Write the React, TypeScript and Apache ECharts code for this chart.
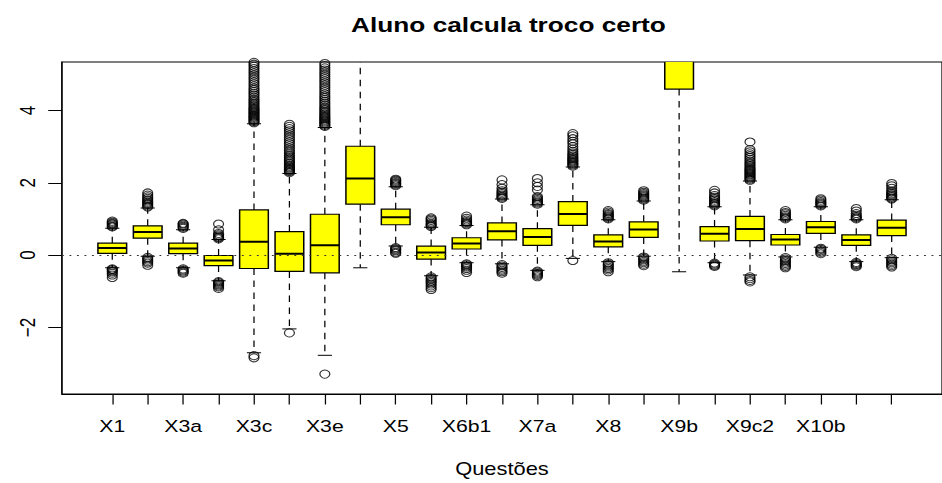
import React, { useEffect, useRef } from "react";
import * as echarts from "echarts";

const categories = [
  "X1", "X2", "X3a", "X3b", "X3c", "X3d", "X3e", "X4", "X5", "X6a", "X6b1", "X6b2",
  "X7a", "X7b", "X8", "X9a", "X9b", "X9c1", "X9c2", "X10a", "X10b", "X10c", "X11",
];
const shownLabels = ["X1", "X3a", "X3c", "X3e", "X5", "X6b1", "X7a", "X8", "X9b", "X9c2", "X10b"];

const lowerWhisker = [-0.35, -0.03, -0.35, -0.71, -2.7, -2.04, -2.77, -0.35, 0.25, -0.57, -0.21, -0.24, -0.42, -0.09, -0.18, -0.03, -0.46, -0.21, -0.55, -0.05, 0.22, -0.18, -0.07];
const lowerQuartile = [0.05, 0.47, 0.04, -0.29, -0.37, -0.45, -0.49, 1.41, 0.84, -0.11, 0.17, 0.42, 0.27, 0.82, 0.23, 0.49, 4.59, 0.39, 0.4, 0.28, 0.6, 0.27, 0.54];
const medianValues = [0.2, 0.64, 0.18, -0.15, 0.37, 0.04, 0.27, 2.12, 1.05, 0.07, 0.32, 0.66, 0.5, 1.14, 0.38, 0.71, 6.2, 0.59, 0.72, 0.43, 0.77, 0.42, 0.76];
const upperQuartile = [0.33, 0.81, 0.33, -0.01, 1.25, 0.65, 1.13, 3.01, 1.27, 0.25, 0.48, 0.89, 0.73, 1.48, 0.56, 0.92, 7.5, 0.79, 1.07, 0.57, 0.93, 0.56, 0.97];
const upperWhisker = [0.74, 1.3, 0.7, 0.43, 3.63, 2.26, 3.53, 6.5, 1.89, 0.77, 0.82, 1.55, 1.39, 2.44, 0.98, 1.5, 9.5, 1.34, 2.05, 0.98, 1.34, 0.98, 1.53];

const outliers: number[][] = [
  [0.78, 0.8, 0.83, 0.86, 0.88, 0.91, 0.94, -0.38, -0.4, -0.43, -0.46, -0.5, -0.55, -0.62],
  [1.33, 1.36, 1.4, 1.43, 1.46, 1.5, 1.53, 1.57, 1.61, 1.66, 1.72, -0.06, -0.1, -0.14, -0.18, -0.22, -0.28],
  [0.74, 0.77, 0.8, 0.83, 0.86, 0.88, -0.38, -0.41, -0.44, -0.47, -0.5],
  [0.45, 0.48, 0.5, 0.53, 0.56, 0.6, 0.7, 0.86, -0.73, -0.76, -0.79, -0.82, -0.85, -0.88, -0.92],
  [3.66, 3.69, 3.72, 3.75, 3.78, 3.81, 3.84, 3.87, 3.9, 3.93, 3.96, 3.99, 4.02, 4.05, 4.08, 4.12, 4.16, 4.2, 4.24, 4.28, 4.32, 4.37, 4.42, 4.47, 4.52, 4.57, 4.62, 4.68, 4.74, 4.8, 4.86, 4.92, 4.98, 5.04, 5.1, 5.16, 5.22, 5.28, 5.33, -2.78, -2.84],
  [2.28, 2.31, 2.34, 2.37, 2.4, 2.43, 2.46, 2.5, 2.54, 2.58, 2.62, 2.66, 2.7, 2.75, 2.8, 2.85, 2.9, 2.96, 3.02, 3.08, 3.14, 3.2, 3.26, 3.32, 3.38, 3.44, 3.5, 3.56, 3.62, -2.15],
  [3.56, 3.59, 3.62, 3.65, 3.68, 3.71, 3.74, 3.77, 3.8, 3.83, 3.86, 3.9, 3.94, 3.98, 4.02, 4.06, 4.1, 4.15, 4.2, 4.25, 4.3, 4.35, 4.4, 4.46, 4.52, 4.58, 4.64, 4.7, 4.76, 4.82, 4.88, 4.94, 5.0, 5.06, 5.12, 5.18, 5.24, 5.3, -3.29],
  [],
  [1.92, 1.95, 1.98, 2.01, 2.04, 2.07, 2.1, 0.21, 0.18, 0.15, 0.12, 0.08, 0.05],
  [0.79, 0.82, 0.85, 0.88, 0.92, 0.96, 1.0, 1.03, -0.6, -0.64, -0.68, -0.72, -0.76, -0.8, -0.85, -0.9, -0.95],
  [0.84, 0.87, 0.9, 0.93, 0.97, 1.02, 1.08, -0.24, -0.27, -0.3, -0.33, -0.37, -0.42, -0.48],
  [1.57, 1.6, 1.63, 1.66, 1.7, 1.74, 1.78, 1.85, 1.95, 2.08, -0.26, -0.3, -0.34, -0.38, -0.42, -0.46, -0.5],
  [1.41, 1.44, 1.47, 1.5, 1.54, 1.58, 1.62, 1.8, 1.9, 2.0, 2.12, -0.44, -0.47, -0.5, -0.53, -0.56, -0.6],
  [2.46, 2.49, 2.52, 2.55, 2.58, 2.61, 2.64, 2.67, 2.7, 2.74, 2.78, 2.82, 2.87, 2.93, 3.0, 3.08, 3.15, 3.22, 3.3, 3.36, -0.15],
  [1.0, 1.03, 1.06, 1.09, 1.12, 1.15, 1.19, 1.23, -0.21, -0.25, -0.29, -0.33, -0.37, -0.41, -0.46],
  [1.52, 1.55, 1.58, 1.61, 1.64, 1.67, 1.7, 1.74, 1.78, -0.05, -0.09, -0.13, -0.17, -0.21, -0.25, -0.29],
  [],
  [1.36, 1.39, 1.42, 1.45, 1.48, 1.52, 1.56, 1.6, 1.65, 1.72, 1.79, -0.22, -0.25, -0.28, -0.31],
  [2.07, 2.1, 2.13, 2.16, 2.19, 2.22, 2.25, 2.28, 2.31, 2.34, 2.37, 2.4, 2.44, 2.48, 2.52, 2.56, 2.6, 2.65, 2.7, 2.75, 2.8, 2.86, 2.92, 3.13, -0.6, -0.65, -0.7, -0.74],
  [1.0, 1.03, 1.06, 1.1, 1.14, 1.18, 1.23, -0.07, -0.11, -0.15, -0.19, -0.23, -0.27, -0.31, -0.35],
  [1.36, 1.39, 1.42, 1.45, 1.48, 1.52, 1.56, 0.19, 0.16, 0.12, 0.08, 0.04],
  [1.0, 1.03, 1.06, 1.1, 1.15, 1.22, 1.29, -0.2, -0.23, -0.26, -0.29, -0.32],
  [1.55, 1.58, 1.61, 1.64, 1.67, 1.7, 1.74, 1.78, 1.85, 1.92, 1.98, -0.09, -0.13, -0.17, -0.21, -0.25, -0.29, -0.33],
];

const yTicks = [-2, 0, 2, 4];

const FONT = "'Liberation Sans', Arial, Helvetica, sans-serif";
const BASE_W = 754;
const BASE_H = 483;
const STRETCH = 942 / BASE_W;

export default function App() {
  const ref = useRef<HTMLDivElement>(null);

  useEffect(() => {
    if (!ref.current) return;
    const chart = echarts.init(ref.current, null, { renderer: "svg", width: BASE_W, height: BASE_H });

    const positions = categories.map((_, i) => i + 1);
    const labelPositions = shownLabels.map((l) => categories.indexOf(l) + 1);
    const boxData = categories.map((_, i) => [
      i + 1,
      lowerWhisker[i],
      lowerQuartile[i],
      medianValues[i],
      upperQuartile[i],
      upperWhisker[i],
    ]);
    const outlierData: number[][] = [];
    outliers.forEach((arr, i) => arr.forEach((v) => outlierData.push([i + 1, v])));

    const BOX_HALF = 0.405;
    const STAPLE_HALF = 0.2;

    chart.setOption({
      animation: false,
      title: {
        text: "Aluno calcula troco certo",
        left: 402,
        textAlign: "center",
        top: 9,
        textStyle: { fontFamily: FONT, fontSize: 21, fontWeight: "bold", color: "#000" },
      },
      grid: {
        left: 49.6,
        top: 62,
        right: BASE_W - 761.5,
        bottom: 88,
        show: true,
        borderColor: "#000",
        borderWidth: 1,
        backgroundColor: "transparent",
      },
      xAxis: {
        type: "value",
        min: -0.42,
        max: 24.42,
        name: "Questões",
        nameLocation: "middle",
        nameGap: 66,
        nameTextStyle: { fontFamily: FONT, fontSize: 17.5, color: "#000" },
        axisLine: { show: true, onZero: false, lineStyle: { color: "#000", width: 1 } },
        axisTick: { show: true, length: 10.5, customValues: positions, lineStyle: { color: "#000", width: 1 } },
        axisLabel: {
          show: true,
          customValues: labelPositions,
          formatter: (v: number) => categories[Math.round(v) - 1] ?? "",
          margin: 23.5,
          fontFamily: FONT,
          fontSize: 17,
          color: "#000",
        },
        splitLine: { show: false },
      },
      yAxis: {
        type: "value",
        min: -3.84,
        max: 5.34,
        axisLine: { show: true, onZero: false, lineStyle: { color: "#000", width: 1 } },
        axisTick: { show: true, length: 11, customValues: yTicks, lineStyle: { color: "#000", width: 1 } },
        axisLabel: {
          show: true,
          customValues: yTicks,
          formatter: (v: number) => (v < 0 ? "\u2212" + Math.abs(v) : String(v)),
          rotate: 90,
          margin: 19,
          fontFamily: FONT,
          fontSize: 17,
          color: "#000",
        },
        splitLine: { show: false },
      },
      series: [
        {
          type: "custom",
          silent: true,
          clip: true,
          z: 2,
          encode: { x: 0, y: [1, 2, 3, 4, 5] },
          data: boxData,
          renderItem: (params: any, api: any) => {
            const x = api.value(0);
            const pLo = api.coord([x, api.value(1)]);
            const pQ1 = api.coord([x, api.value(2)]);
            const pMed = api.coord([x, api.value(3)]);
            const pQ3 = api.coord([x, api.value(4)]);
            const pHi = api.coord([x, api.value(5)]);
            const half = api.size([BOX_HALF, 0])[0];
            const staple = api.size([STAPLE_HALF, 0])[0];
            const cx = pLo[0];
            const dash = { stroke: "#000", lineWidth: 1, lineDash: [6.5, 5.5] };
            const solid = { stroke: "#000", lineWidth: 1 };
            return {
              type: "group",
              children: [
                { type: "line", shape: { x1: cx, y1: pQ3[1], x2: cx, y2: pHi[1] }, style: dash },
                { type: "line", shape: { x1: cx, y1: pQ1[1], x2: cx, y2: pLo[1] }, style: dash },
                { type: "line", shape: { x1: cx - staple, y1: pHi[1], x2: cx + staple, y2: pHi[1] }, style: solid },
                { type: "line", shape: { x1: cx - staple, y1: pLo[1], x2: cx + staple, y2: pLo[1] }, style: solid },
                {
                  type: "rect",
                  shape: { x: cx - half, y: pQ3[1], width: half * 2, height: pQ1[1] - pQ3[1] },
                  style: { fill: "#ffff00", stroke: "#000", lineWidth: 1.2 },
                },
                { type: "line", shape: { x1: cx - half, y1: pMed[1], x2: cx + half, y2: pMed[1] }, style: { stroke: "#000", lineWidth: 2 } },
              ],
            };
          },
        },
        {
          type: "scatter",
          silent: true,
          clip: true,
          z: 3,
          symbol: "circle",
          symbolSize: 8,
          data: outlierData,
          itemStyle: { color: "rgba(0,0,0,0)", borderColor: "#000", borderWidth: 1 },
          markLine: {
            silent: true,
            symbol: ["none", "none"],
            label: { show: false },
            lineStyle: { type: [1.5, 4.5], color: "#333", width: 1 },
            data: [{ yAxis: 0 }],
          },
        },
      ],
    });

    return () => chart.dispose();
  }, []);

  return (
    <div style={{ position: "fixed", left: 0, top: 0, width: 942, height: 483, overflow: "hidden", background: "#fff" }}>
      <div
        ref={ref}
        style={{
          width: BASE_W,
          height: BASE_H,
          transform: `scaleX(${STRETCH})`,
          transformOrigin: "0 0",
        }}
      />
    </div>
  );
}
